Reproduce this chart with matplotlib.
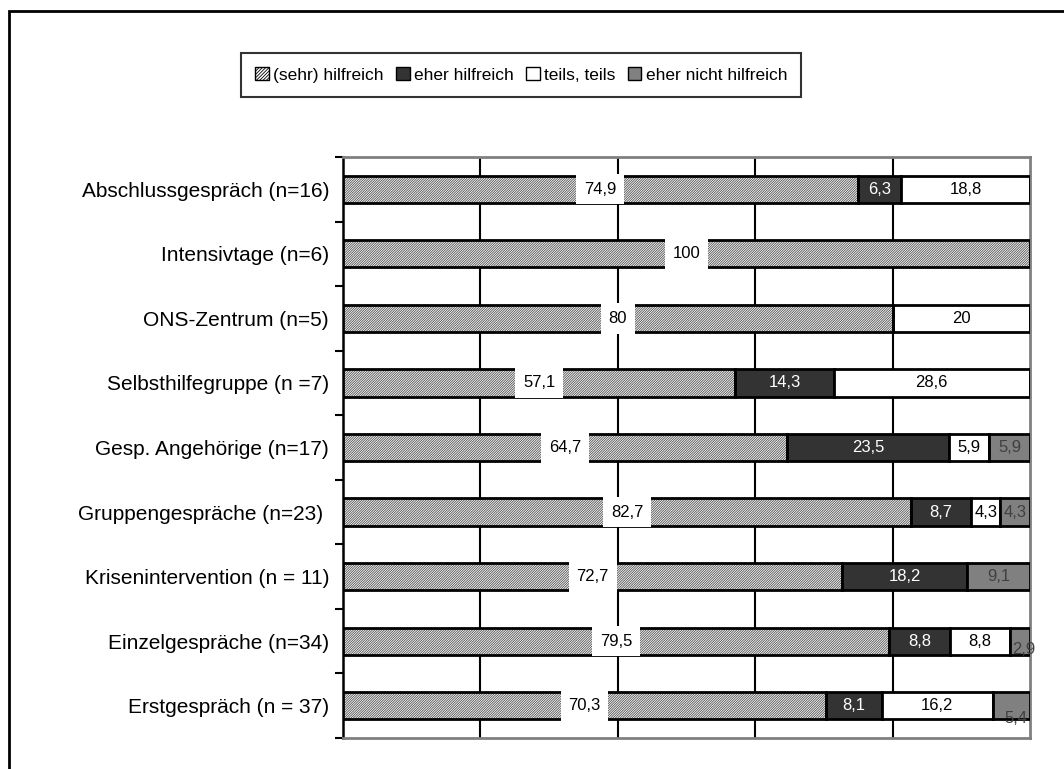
import matplotlib
matplotlib.use('Agg')
import matplotlib.pyplot as plt
from matplotlib.patches import Patch, Rectangle
import numpy as np

plt.rcParams['font.family'] = ['Liberation Sans', 'DejaVu Sans']
plt.rcParams['hatch.linewidth'] = 0.6

categories = ["Abschlussgespräch (n=16)", "Intensivtage (n=6)", "ONS-Zentrum (n=5)",
              "Selbsthilfegruppe (n =7)", "Gesp. Angehörige (n=17)",
              "Gruppengespräche (n=23) ", "Krisenintervention (n = 11)",
              "Einzelgespräche (n=34)", "Erstgespräch (n = 37)"]
series_names = ["(sehr) hilfreich", "eher hilfreich", "teils, teils", "eher nicht hilfreich"]
sehr = [74.9, 100, 80, 57.1, 64.7, 82.7, 72.7, 79.5, 70.3]
eher = [6.3, 0, 0, 14.3, 23.5, 8.7, 18.2, 8.8, 8.1]
teils = [18.8, 0, 20, 28.6, 5.9, 4.3, 0, 8.8, 16.2]
nicht = [0, 0, 0, 0, 5.9, 4.3, 9.1, 2.9, 5.4]

series = [sehr, eher, teils, nicht]
fills = ['white', '#333333', 'white', '#808080']
hatches = ['/' * 14, None, None, None]
text_colors = ['black', 'white', 'black', '#404040']
# a few labels sit off-centre (points)
label_shift = {(3, 7): (3, -6), (3, 8): (3, -9)}

def fmt(v):
    if v == int(v):
        return str(int(v))
    return ('%.1f' % v).replace('.', ',')

fig = plt.figure(figsize=(10.64, 7.69), dpi=100)
ax = fig.add_axes([343 / 1064, 1 - 738 / 769, 687 / 1064, 581 / 769])

y = np.arange(len(categories))
h = 0.42
left = np.zeros(len(categories))
for k, vals in enumerate(series):
    vals = np.array(vals)
    if hatches[k]:
        ax.barh(y, vals, h, left=left, color='white', edgecolor='#505050',
                hatch=hatches[k], linewidth=0, zorder=3)
        ax.barh(y, vals, h, left=left, fill=False, edgecolor='black',
                linewidth=2, zorder=4)
    else:
        ax.barh(y, vals, h, left=left, color=fills[k], edgecolor='black',
                linewidth=2, zorder=3)
    for i, v in enumerate(vals):
        if v <= 0:
            continue
        dx, dy = label_shift.get((k, i), (0, 0))
        kw = {}
        if k == 0:
            kw['bbox'] = dict(facecolor='white', edgecolor='none', pad=5.5)
        ax.annotate(fmt(v), (left[i] + v / 2, y[i]), xytext=(dx, dy),
                    textcoords='offset points', ha='center', va='center',
                    fontsize=12, color=text_colors[k], zorder=6, **kw)
    left += vals

ax.set_xlim(0, 100)
ax.set_ylim(len(categories) - 0.5, -0.5)
ax.set_xticks([20, 40, 60, 80])
ax.set_xticklabels([])
ax.tick_params(axis='x', length=0)
ax.grid(axis='x', color='black', linewidth=1.5, zorder=1)
ax.set_yticks(y)
ax.set_yticklabels(categories, fontsize=15)
ax.set_yticks(np.arange(-0.5, len(categories)), minor=True)
ax.tick_params(axis='y', which='major', length=0, pad=10)
ax.tick_params(axis='y', which='minor', length=6, width=1.5, color='black')
ax.spines['left'].set_color('black')
ax.spines['left'].set_linewidth(1.8)
for s in ['top', 'right', 'bottom']:
    ax.spines[s].set_color('#808080')
    ax.spines[s].set_linewidth(2)

handles = [Patch(facecolor=fills[k], edgecolor='black',
                 hatch='/' * 10 if hatches[k] else None, linewidth=1)
           for k in range(4)]
leg = fig.legend(handles, series_names, loc='center', bbox_to_anchor=(521 / 1064, 1 - 75 / 769),
                 ncol=4, fontsize=12.5, frameon=True, fancybox=False, edgecolor='black',
                 handlelength=0.8, handleheight=0.8, handletextpad=0.25, columnspacing=0.7,
                 borderpad=0.8)
leg.get_frame().set_linewidth(1.5)

# outer chart border (runs off the right and bottom)
fig.patches.append(Rectangle((9 / 1064, -0.05), 1.1, 1.05 - 11 / 769, transform=fig.transFigure,
                             fill=False, edgecolor='black', linewidth=2))

fig.savefig('out.png', dpi=100)
